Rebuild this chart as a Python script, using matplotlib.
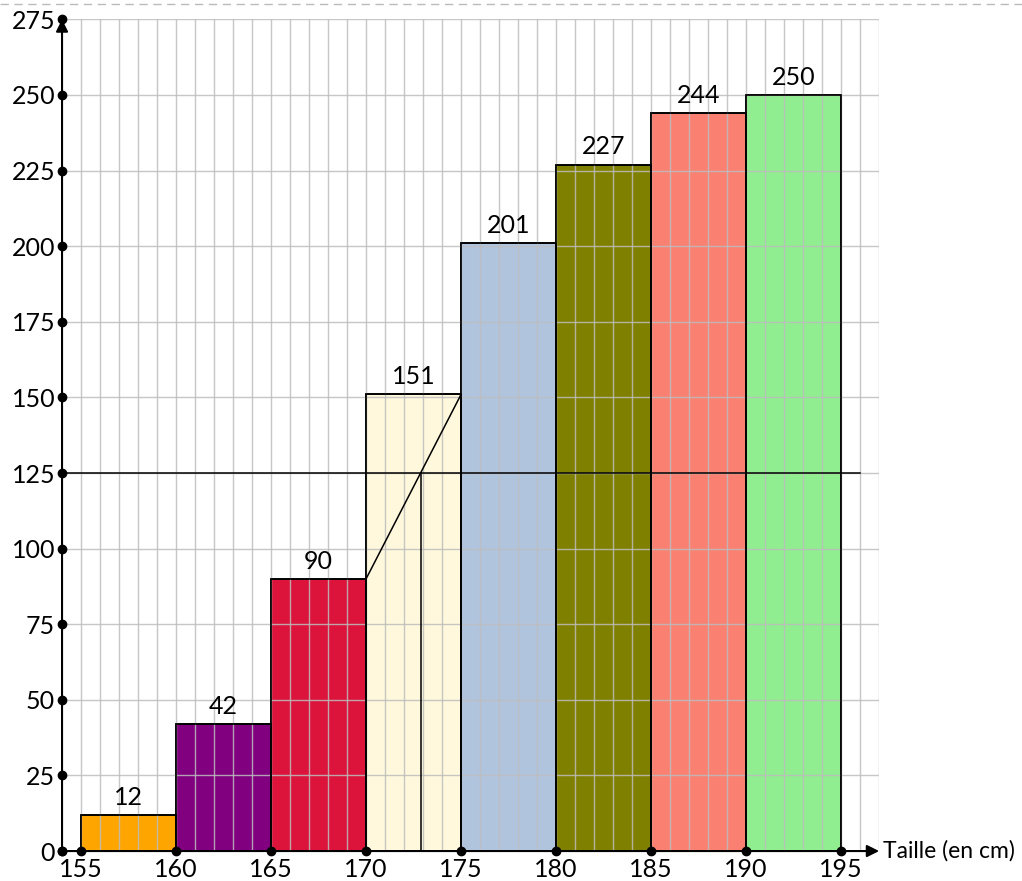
import numpy as np
import matplotlib.pyplot as plt
from matplotlib.lines import Line2D

plt.rcParams['font.family'] = ['Lato', 'DejaVu Sans']

# classes de taille (bornes) et effectifs cumulés croissants
bornes = [155, 160, 165, 170, 175, 180, 185, 190, 195]
effectifs_cumules = [12, 42, 90, 151, 201, 227, 244, 250]
couleurs = ['orange', 'purple', 'crimson', 'cornsilk',
            'lightsteelblue', 'olive', 'salmon', 'lightgreen']
y_ticks = [0, 25, 50, 75, 100, 125, 150, 175, 200, 225, 250, 275]
mediane_y = 125

fig = plt.figure(figsize=(10.22, 8.81), dpi=100)
ax = fig.add_axes([0.0607, 0.034, 0.7995, 0.944])
ax.set_xlim(154, 197)
ax.set_ylim(0, 275)
for s in ax.spines.values():
    s.set_visible(False)

# barres de l'histogramme cumulé
largeur = bornes[1] - bornes[0]
for g, h, c in zip(bornes[:-1], effectifs_cumules, couleurs):
    ax.bar(g, h, width=largeur, align='edge', color=c, edgecolor='black',
           linewidth=1.2, zorder=2)
    ax.text(g + largeur / 2, h + 2, str(h), ha='center', va='bottom',
            fontsize=18, zorder=5)

# quadrillage par dessus les barres
grille_x = np.arange(155, 198)
ax.vlines(grille_x, 0, 275, color='#bdbdbd', alpha=0.85, lw=1.0, zorder=3)
ax.hlines(y_ticks[1:], 154, 197, color='#bdbdbd', alpha=0.85, lw=1.0, zorder=3)
# contours des barres redessinés au-dessus du quadrillage
for g, h in zip(bornes[:-1], effectifs_cumules):
    ax.bar(g, h, width=largeur, align='edge', fill=False, edgecolor='black',
           linewidth=1.2, zorder=3.5)

# lecture graphique de la médiane (interpolation linéaire)
x_med = bornes[3] + largeur * (mediane_y - effectifs_cumules[2]) / (effectifs_cumules[3] - effectifs_cumules[2])
ax.plot([bornes[3], bornes[4]], [effectifs_cumules[2], effectifs_cumules[3]],
        color='black', lw=1.1, zorder=4)
ax.plot([154, 196], [mediane_y, mediane_y], color='black', lw=1.1, zorder=4)
ax.plot([x_med, x_med], [0, mediane_y], color='black', lw=1.1, zorder=4)

# axes avec flèches
ax.annotate('', xy=(197, 0), xytext=(154, 0), annotation_clip=False,
            arrowprops=dict(arrowstyle='-|>', color='black', lw=1.5,
                            mutation_scale=18, shrinkA=0, shrinkB=0), zorder=6)
ax.annotate('', xy=(154, 275), xytext=(154, 0), annotation_clip=False,
            arrowprops=dict(arrowstyle='-|>', color='black', lw=1.5,
                            mutation_scale=18, shrinkA=0, shrinkB=0), zorder=6)
ax.plot(bornes + [154], [0] * (len(bornes) + 1), 'o', color='black',
        ms=6, clip_on=False, zorder=7)
ax.plot([154] * len(y_ticks), y_ticks, 'o', color='black', ms=6,
        clip_on=False, zorder=7)

ax.set_xticks(bornes)
ax.set_yticks(y_ticks)
ax.tick_params(length=0, labelsize=18, pad=5)
ax.text(197.2, 0, 'Taille (en cm)', ha='left', va='center', fontsize=16.5)

# trait pointillé en haut de la figure
fig.add_artist(Line2D([0, 1], [0.996, 0.996], transform=fig.transFigure,
                      color='#bbbbbb', lw=1, ls=(0, (6, 4))))

fig.savefig('out.png', dpi=100)
